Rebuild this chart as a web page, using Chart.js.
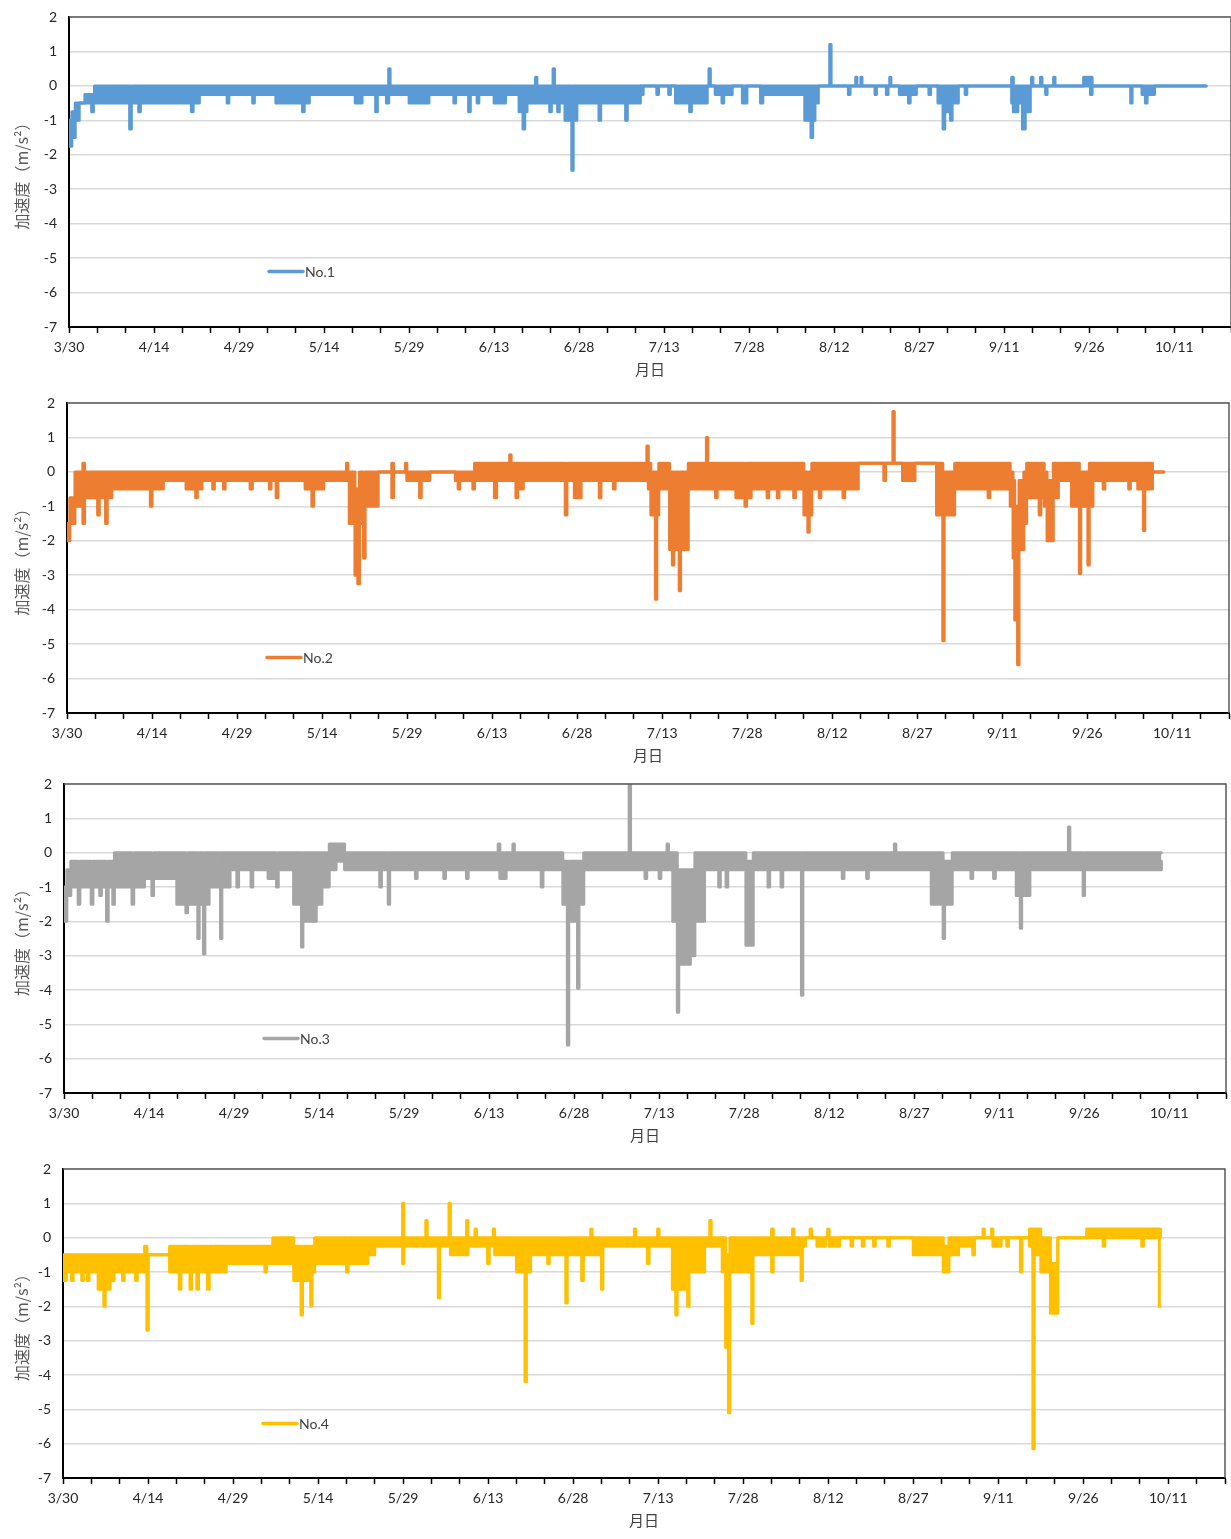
<!DOCTYPE html>
<html lang="ja">
<head>
  <meta charset="UTF-8">
  <title>加速度 No.1 - No.4</title>
  <style>
    body { margin: 0; background: #fff; }
    .wrap { position: relative; width: 1231px; height: 1539px; }
    .wrap canvas { position: absolute; left: 0; }
  </style>
</head>
<body>
  <div class="wrap">
    <canvas id="c1"></canvas>
    <canvas id="c2"></canvas>
    <canvas id="c3"></canvas>
    <canvas id="c4"></canvas>
  </div>

  <script src="https://cdn.jsdelivr.net/npm/chart.js"></script>
  <script>
    // x軸: 3/30 からの日数, 15日ごとに日付ラベル
    const dateLabels = ['3/30', '4/14', '4/29', '5/14', '5/29', '6/13', '6/28',
                        '7/13', '7/28', '8/12', '8/27', '9/11', '9/26', '10/11'];
    const labelStep = 15;
    const yTicks = [-7, -6, -5, -4, -3, -2, -1, 0, 1, 2];

    // 各センサー: [日数, 最小値, 最大値] (次の行まで保持)
    const no1 = [
      [0,-1.75,-1],[0.5,-1.5,-0.75],[1.1,-1,-0.5],[1.8,-0.5,-0.5],[2.8,-0.5,-0.25],[4,-0.75,-0.25],
      [4.3,-0.5,-0.25],[4.5,-0.5,0],[10.7,-1.25,-0.25],[11,-0.5,0],[12.3,-0.75,0],[12.6,-0.5,0],
      [21.6,-0.75,0],[21.9,-0.5,0],[23,-0.25,0],[27.9,-0.5,0],[28.2,-0.25,0],[32.4,-0.5,0],
      [32.7,-0.25,0],[36.5,-0.5,0],[41.2,-0.75,0],[41.5,-0.5,0],[42.4,-0.25,0],[50.5,-0.5,0],
      [51.7,-0.25,0],[54.1,-0.75,0],[54.4,-0.25,0],[56,-0.5,0],[56.4,-0.25,0.5],[56.65,-0.25,0],
      [60,-0.5,0],[63.5,-0.25,0],[67.9,-0.5,0],[68.2,-0.25,0],[70.5,-0.75,0],[70.8,-0.25,0],
      [72,-0.5,0],[72.3,-0.25,0],[75,-0.5,0],[77,-0.25,0],[79.4,-0.75,0],[80.1,-1.25,0],
      [80.4,-0.75,0],[80.8,-0.5,0],[82.3,-0.5,0.25],[82.55,-0.5,0],[84.8,-0.75,0],[85.1,-0.5,0],
      [85.4,-0.5,0.5],[85.65,-0.5,0],[86.2,-0.75,0],[86.5,-0.5,0],[87.5,-1,0],[88.7,-2.45,-0.25],
      [88.95,-1,0],[89.6,-0.5,0],[93.5,-1,0],[93.8,-0.5,0],[98.2,-1,0],[98.5,-0.5,0],
      [100.8,0,0],[101,-0.25,0],[101.3,0,0],[103.7,-0.25,0],[104,0,0],[105.8,-0.25,0],
      [106.1,0,0],[107,-0.5,0],[109.5,-0.75,0],[109.8,-0.5,0],[112.6,0,0],[112.9,0,0.5],
      [113.15,0,0],[114,-0.25,0],[115.2,-0.5,0],[115.5,-0.25,0],[117,0,0],[118.8,-0.5,0],
      [119.6,0,0],[122,-0.5,0],[122.4,-0.25,0],[129.8,-1,0],[130.9,-1.5,0],[131.2,-1,0],
      [131.6,-0.5,0],[132.2,0,0],[134.2,0,1.2],[134.45,0,0],[137.5,-0.25,0],[137.8,0,0],
      [138.8,0,0.25],[139,0,0],[139.7,0,0.25],[139.9,0,0],[142.2,-0.25,0],[142.45,0,0],
      [144.2,-0.25,0],[144.5,0,0],[144.8,0,0.25],[145,0,0],[146.5,-0.25,0],[148.1,-0.5,0],
      [148.4,-0.25,0],[149.5,0,0],[151.7,-0.25,0],[152,0,0],[153.3,-0.5,0],[154.2,-1.25,0],
      [154.5,-0.75,0],[155.5,-1,0],[155.8,-0.5,0],[156.9,0,0],[158.1,-0.25,0],[158.4,0,0],
      [166.3,-0.5,0.25],[166.6,-0.75,0],[167.4,-0.5,0],[168.2,-1.25,0],[168.7,-0.75,0],[169.6,0,0],
      [169.8,0,0.25],[170.05,0,0],[171.4,0,0.25],[171.65,0,0],[172.3,-0.25,0],[172.55,0,0],
      [173.7,0,0.25],[173.95,0,0],[179,0,0.25],[180.2,-0.25,0.25],[180.5,0,0],[187.3,-0.5,0],
      [187.55,0,0],[189.3,-0.25,0],[189.9,-0.5,0],[190.2,-0.25,0],[191.5,0,0],[200.6,0,0]
    ];

    const no2 = [
      [0,-2,-1.5],[0.5,-1.5,-0.75],[1.4,-1,0],[2.8,-1.5,0.25],[3.1,-0.75,0],[5.4,-1.25,0],
      [5.7,-0.75,0],[6.8,-1.5,0],[7.1,-0.75,0],[7.9,-0.5,0],[14.7,-1,0],[15,-0.5,0],
      [17,-0.25,0],[21,-0.5,0],[22.7,-0.75,0],[23,-0.5,0],[23.8,-0.25,0],[25.7,-0.5,0],
      [26,-0.25,0],[27.6,-0.5,0],[27.9,-0.25,0],[32.3,-0.5,0],[32.7,-0.25,0],[35.7,-0.5,0],
      [36,-0.25,0],[36.9,-0.75,0],[37.2,-0.25,0],[42,-0.5,0],[43.2,-1,0],[43.5,-0.5,0],
      [45.3,-0.25,0],[49.3,-0.25,0.25],[49.55,-0.25,0],[49.8,-1.5,0],[50.8,-3,-0.5],[51.3,-3.25,-0.75],
      [51.6,-1.5,0],[52.3,-2.5,-0.5],[52.6,-1,0],[54.9,0,0],[57.3,-0.75,0.25],[57.6,0,0],
      [59.7,0,0.25],[59.95,-0.25,0],[62.2,-0.75,0],[62.5,-0.25,0],[64,0,0],[68.5,-0.25,0],
      [69,-0.5,0],[69.3,-0.25,0],[71.6,-0.5,0],[71.9,-0.25,0.25],[75.4,-0.75,0.25],[75.8,-0.25,0.25],
      [78.1,-0.25,0.5],[78.35,-0.25,0.25],[79.2,-0.75,0.25],[79.5,-0.5,0.25],[80.5,-0.25,0.25],[87.9,-1.25,0],
      [88.2,-0.25,0.25],[89.5,-0.75,0.25],[90.7,-0.25,0.25],[93.9,-0.75,0.25],[94.2,-0.25,0.25],[96.4,-0.5,0.25],
      [96.7,-0.25,0.25],[102.3,-0.25,0.75],[102.55,-0.5,0.25],[103,-1.25,0],[103.8,-3.7,-0.5],[104.05,-1.25,0],
      [104.4,-0.5,0.25],[106.3,-2.25,0],[106.8,-2.7,-0.5],[107.05,-2.25,0],[108,-3.45,-1],[108.25,-2.25,0],
      [109.6,-0.5,0.25],[112.8,-0.5,1],[113.05,-0.5,0.25],[114.4,-0.75,0.25],[114.7,-0.5,0.25],[118,-0.75,0.25],
      [119.6,-1,0],[119.9,-0.75,0.25],[120.7,-0.5,0.25],[123.5,-0.75,0.25],[123.8,-0.5,0.25],[125.3,-0.75,0.25],
      [125.6,-0.5,0.25],[128.2,-0.75,0.25],[128.5,-0.5,0.25],[130,-1.25,0],[130.7,-1.75,-0.5],[130.95,-1.25,0],
      [131.4,-0.5,0.25],[132.7,-0.75,0.25],[133,-0.5,0.25],[136.9,-0.75,0.25],[137.2,-0.5,0.25],[139.6,0.25,0.25],
      [144.1,-0.25,0.25],[144.4,0.25,0.25],[145.7,0.25,1.75],[145.95,0.25,0.25],[147.4,-0.25,0.25],[149.6,0.25,0.25],
      [153.4,-1.25,0.25],[154.5,-4.9,-1],[154.75,-1.25,0],[156.6,-0.5,0.25],[162.5,-0.75,0.25],[162.8,-0.5,0.25],
      [166.4,-1,0],[166.9,-2.5,-0.25],[167.2,-4.3,-1],[167.7,-5.6,-1.5],[167.95,-2.25,-0.25],[168.8,-1.5,0],
      [169.3,-0.75,0.25],[171.5,-1.25,0],[171.8,-0.75,0.25],[172.4,-1,0],[172.9,-2,-0.25],[174,-0.75,0.25],
      [174.9,-0.25,0.25],[177.2,-1,0.25],[178.6,-2.95,-0.5],[178.85,-1,0],[180.1,-2.7,-0.5],[180.35,-1,0.25],
      [181,-0.25,0.25],[182.8,-0.5,0.25],[183.1,-0.25,0.25],[187.3,-0.5,0.25],[187.6,-0.25,0.25],[188.9,-0.5,0.25],
      [189.9,-1.7,-0.25],[190.15,-0.5,0.25],[191.5,0,0],[193.5,0,0]
    ];

    const no3 = [
      [0,-2,-1],[0.5,-1.25,-0.5],[1.2,-1,-0.25],[2.5,-1.5,-0.5],[2.8,-1,-0.25],[4.8,-1.5,-0.5],
      [5.1,-1,-0.25],[6.3,-1.25,-0.25],[6.6,-1,-0.25],[7.5,-2,-0.5],[7.8,-1,-0.25],[8.6,-1.5,-0.5],
      [8.9,-1,0],[12,-1.5,-0.25],[12.3,-1,0],[14.2,-0.75,0],[15.5,-1.25,-0.25],[15.8,-0.75,0],
      [19.9,-1.5,0],[21.5,-1.75,-0.25],[21.8,-1.5,0],[23.6,-2.5,-0.5],[23.85,-1.5,0],[24.6,-2.95,-0.75],
      [24.85,-1.5,0],[25.6,-1,0],[27.6,-2.5,-0.5],[27.85,-1,0],[29.3,-0.5,0],[30.5,-1,0],
      [30.8,-0.5,0],[33,-1,0],[33.3,-0.5,0],[36,-0.75,0],[37.5,-1,-0.25],[37.8,-0.5,0],
      [40.5,-1.5,0],[41.9,-2.75,-0.75],[42.15,-2,0],[44.5,-1.5,0],[45.5,-1,0],[46.8,-0.5,0.25],
      [48,-0.25,0.25],[49.5,-0.5,0],[55.7,-1,0],[56,-0.5,0],[57.2,-1.5,-0.25],[57.45,-0.5,0],
      [58.5,-0.5,0],[62,-0.75,0],[62.3,-0.5,0],[67,-0.75,0],[67.3,-0.5,0],[71,-0.75,0],
      [71.3,-0.5,0],[76.6,-0.5,0.25],[76.9,-0.75,0],[78,-0.5,0],[79.2,-0.5,0.25],[79.45,-0.5,0],
      [84.2,-1,0],[84.5,-0.5,0],[86,-0.5,0],[88,-1.5,-0.25],[88.8,-5.6,-1],[89.05,-2,-0.25],
      [90.6,-3.95,-1],[90.85,-1.5,-0.25],[91.7,-0.5,0],[99.7,-0.5,2],[99.95,-0.5,0],[102.5,-0.75,0],
      [102.8,-0.5,0],[105,-0.75,0],[105.3,-0.5,0],[106.4,-0.5,0.25],[106.65,-0.5,0],[107.4,-2,0],
      [108.2,-4.65,-1],[108.45,-3.25,-0.5],[110.5,-3,-0.5],[111.3,-2,0],[113,-0.5,0],[115.5,-1,0],
      [115.8,-0.5,0],[116.8,-1,0],[117.1,-0.5,0],[120.3,-2.7,-0.25],[121.6,-0.5,0],[124.2,-1,0],
      [124.5,-0.5,0],[126.5,-1,0],[126.8,-0.5,0],[130.1,-4.15,-0.5],[130.35,-0.5,0],[137.3,-0.75,0],
      [137.6,-0.5,0],[141.6,-0.75,0],[141.9,-0.5,0],[146.5,-0.5,0.25],[146.75,-0.5,0],[153,-1.5,0],
      [155.1,-2.5,-0.5],[155.35,-1.5,-0.25],[156.7,-0.5,0],[160,-0.75,0],[160.3,-0.5,0],[164,-0.75,0],
      [164.3,-0.5,0],[168,-1.25,0],[168.7,-2.2,-0.5],[168.95,-1.25,0],[170.4,-0.5,0],[177.2,-0.5,0.75],
      [177.45,-0.5,0],[179.8,-1.25,-0.25],[180.05,-0.5,0],[193.6,-0.25,0]
    ];

    const no4 = [
      [0,-1.25,-0.5],[0.6,-1,-0.5],[1.5,-1.25,-0.5],[1.8,-1,-0.5],[3.3,-1.25,-0.5],[3.6,-1,-0.5],
      [4.3,-1.25,-0.5],[4.6,-1,-0.5],[6.2,-1.5,-0.5],[7.2,-2,-0.75],[7.45,-1.5,-0.5],[8.3,-1.25,-0.5],
      [9,-1,-0.5],[10.5,-1.25,-0.5],[10.8,-1,-0.5],[12.8,-1.25,-0.5],[13.1,-1,-0.5],[14.4,-0.5,-0.25],
      [14.8,-2.7,-0.5],[15.05,-0.5,-0.5],[18.8,-1,-0.25],[20.5,-1.5,-0.5],[20.8,-1,-0.25],[22.4,-1.5,-0.5],
      [22.7,-1,-0.25],[23.6,-1.5,-0.5],[23.9,-1,-0.25],[25.5,-1.5,-0.5],[25.8,-1,-0.25],[28.8,-0.75,-0.25],
      [35.6,-1,-0.25],[35.9,-0.75,-0.25],[37,-0.75,0],[40.7,-1.25,-0.25],[42,-2.25,-0.75],[42.25,-1.25,-0.25],
      [43.7,-2,-0.5],[43.95,-1,-0.25],[44.4,-0.75,0],[50,-1,-0.25],[50.3,-0.75,0],[53.8,-0.5,0],
      [55,-0.25,0],[59.9,-0.75,1],[60.15,-0.25,0],[64,-0.25,0.5],[64.25,-0.25,0],[66.2,-1.75,0],
      [66.45,-0.25,0],[68.1,-0.25,1],[68.35,-0.5,0],[71.2,-0.5,0.5],[71.45,-0.25,0],[72.7,-0.25,0.25],
      [72.95,-0.25,0],[74.9,-0.75,0],[75.2,-0.25,0],[75.9,-0.25,0.25],[76.15,-0.5,0],[80,-1,0],
      [81.5,-4.2,-0.5],[81.75,-1,0],[82.5,-0.5,0],[85.5,-0.75,0],[85.8,-0.5,0],[88.7,-1.9,-0.25],
      [88.95,-0.5,0],[91.5,-1.25,0],[91.8,-0.5,0],[93.1,-0.5,0.25],[93.35,-0.5,0],[95,-1.5,-0.25],
      [95.25,-0.25,0],[100.8,-0.25,0.25],[101.05,-0.25,0],[103.1,-0.75,0],[103.4,-0.25,0],[104.9,-0.25,0.25],
      [105.15,-0.25,0],[107.5,-1.5,0],[108.1,-2.25,-0.5],[108.35,-1.5,0],[110.2,-2,-0.5],[110.45,-1,0],
      [113.2,-0.25,0],[114.1,-0.25,0.5],[114.35,-0.25,0],[116.3,-1,0],[116.9,-3.2,-0.5],[117.4,-5.1,-1],
      [117.65,-1,0],[121.5,-2.5,-0.25],[121.75,-0.5,0],[125,-1,0.25],[125.3,-0.5,0],[128.7,-0.5,0.25],
      [128.95,-0.5,0],[130.2,-1.25,-0.25],[130.45,-0.25,0],[131,0,0],[131.8,0,0.25],[132.05,0,0],
      [133,-0.25,0],[134.5,0,0],[134.9,0,0.25],[135.15,-0.25,0],[137,0,0],[139,-0.25,0],
      [139.3,0,0],[141,-0.25,0],[141.3,0,0],[143,-0.25,0],[143.3,0,0],[145.5,-0.25,0],
      [145.8,0,0],[150,-0.5,0],[155.3,-1,-0.25],[156.3,-0.5,0],[158,-0.25,0],[160.5,-0.5,0],
      [160.8,0,0],[162.3,0,0.25],[162.55,0,0],[163.8,0,0.25],[164.05,-0.25,0],[165.5,0,0],
      [166.5,-0.25,0],[166.8,0,0],[168.9,-1,0],[169.15,0,0],[170.5,-0.25,0.25],[171.1,-6.15,-0.5],
      [171.35,-0.5,0.25],[172.5,-1,0],[174.2,-2.2,-0.75],[175.5,0,0],[180.6,0,0.25],[183.5,-0.25,0.25],
      [183.8,0,0.25],[190.3,-0.25,0.25],[190.6,0,0.25],[193.4,-2,0.25],[193.6,-2,0]
    ];

    const sensors = [
      { id: 'c1', label: 'No.1', rows: no1, color: '#5B9BD5', top: 0,    left: 69, plotH: 310 },
      { id: 'c2', label: 'No.2', rows: no2, color: '#ED7D31', top: 386,  left: 67, plotH: 310 },
      { id: 'c3', label: 'No.3', rows: no3, color: '#A5A5A5', top: 767,  left: 64, plotH: 309 },
      { id: 'c4', label: 'No.4', rows: no4, color: '#FFC000', top: 1152, left: 63, plotH: 309 }
    ];

    const PLOT_W = 1162;
    const PAD_TOP = 17;
    const XAXIS_H = 56;

    // プロット枠 (上・右)
    const frameLines = {
      id: 'frameLines',
      afterDatasetsDraw(chart) {
        const { ctx, chartArea: a } = chart;
        ctx.save();
        ctx.strokeStyle = '#595959';
        ctx.lineWidth = 1.5;
        ctx.beginPath();
        ctx.moveTo(a.left, a.top);
        ctx.lineTo(a.right, a.top);
        ctx.lineTo(a.right, a.bottom);
        ctx.stroke();
        ctx.restore();
      }
    };

    // 凡例 (プロット内)
    const insideLegend = {
      id: 'insideLegend',
      afterDraw(chart) {
        const { ctx, chartArea: a } = chart;
        const ds = chart.data.datasets[0];
        const x = a.left + 199, y = a.top + 254.5;
        ctx.save();
        ctx.strokeStyle = ds.borderColor;
        ctx.lineWidth = 3.5;
        ctx.lineCap = 'round';
        ctx.beginPath();
        ctx.moveTo(x + 1, y);
        ctx.lineTo(x + 35, y);
        ctx.stroke();
        ctx.fillStyle = '#404040';
        ctx.font = '14px Lato, sans-serif';
        ctx.textBaseline = 'middle';
        ctx.fillText(ds.label, x + 37, y + 1);
        ctx.restore();
      }
    };

    function makeChart(s) {
      const canvas = document.getElementById(s.id);
      canvas.width = 1231;
      canvas.height = PAD_TOP + s.plotH + XAXIS_H;
      canvas.style.top = s.top + 'px';

      const common = {
        borderColor: s.color,
        backgroundColor: s.color,
        borderWidth: 3,
        borderJoinStyle: 'round',
        borderCapStyle: 'round',
        stepped: true,
        pointRadius: 0
      };

      return new Chart(canvas.getContext('2d'), {
        type: 'line',
        data: {
          datasets: [
            Object.assign({ label: s.label, data: s.rows.map(r => ({ x: r[0], y: r[2] })), fill: false }, common),
            Object.assign({ label: s.label + ' min', data: s.rows.map(r => ({ x: r[0], y: r[1] })), fill: '-1' }, common)
          ]
        },
        options: {
          responsive: false,
          animation: false,
          layout: { padding: { top: PAD_TOP, left: 0, bottom: 0, right: 1231 - s.left - PLOT_W } },
          plugins: { legend: { display: false }, tooltip: { enabled: false } },
          scales: {
            x: {
              type: 'linear',
              min: 0,
              max: 205,
              afterFit(scale) {
                scale.height = XAXIS_H;
                scale.paddingLeft = 0;
                scale.paddingRight = 0;
              },
              border: { color: '#000', width: 2 },
              grid: { drawOnChartArea: false, drawTicks: true, tickLength: 6, tickColor: '#000', tickWidth: 1.5 },
              ticks: {
                stepSize: 5,
                autoSkip: false,
                maxRotation: 0,
                padding: 6,
                color: '#262626',
                font: { family: 'Lato, sans-serif', size: 14 },
                callback(v) {
                  const n = Math.round(v);
                  return n % labelStep === 0 ? (dateLabels[n / labelStep] || '') : '';
                }
              },
              title: {
                display: true,
                text: '月日',
                color: '#404040',
                padding: { top: 2, bottom: 5 },
                font: { family: "'Noto Sans CJK JP', sans-serif", size: 15 }
              }
            },
            y: {
              min: yTicks[0],
              max: yTicks[yTicks.length - 1],
              afterFit(scale) {
                scale.width = s.left;
                scale.paddingTop = 0;
                scale.paddingBottom = 0;
              },
              afterBuildTicks(scale) { scale.ticks = yTicks.map(v => ({ value: v })); },
              border: { color: '#000', width: 2 },
              grid: { color: '#d9d9d9', lineWidth: 1.5, drawTicks: false },
              ticks: {
                padding: 12,
                color: '#262626',
                font: { family: 'Lato, sans-serif', size: 14 }
              },
              title: {
                display: true,
                text: '加速度（m/s²）',
                color: '#595959',
                padding: { top: 12, bottom: 0 },
                font: { family: "'Noto Sans CJK JP', sans-serif", size: 16 }
              }
            }
          }
        },
        plugins: [frameLines, insideLegend]
      });
    }

    sensors.forEach(makeChart);
  </script>
</body>
</html>
